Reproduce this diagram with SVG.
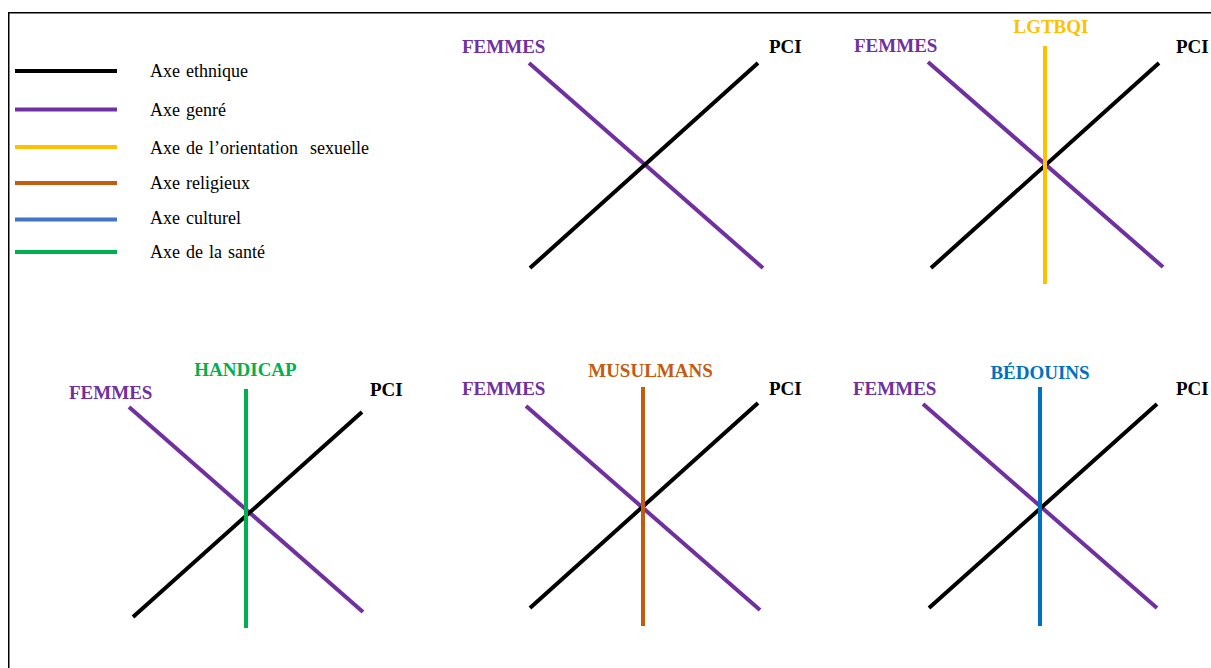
<svg xmlns="http://www.w3.org/2000/svg" width="1211" height="668" viewBox="0 0 1211 668">
<style>
.leg{font-family:"Liberation Serif","Times New Roman",serif;font-size:18px;fill:#000;word-spacing:1.5px}
.lbl{font-family:"Liberation Serif","Times New Roman",serif;font-size:19px;font-weight:bold}
.ax{stroke-width:4;fill:none}
.blk{stroke:#000}
.pur{stroke:#7030A0}
.yel{stroke:#FFC000}
.org{stroke:#C55A11}
.blu{stroke:#4472C4}
.blu2{stroke:#0070C0}
.grn{stroke:#00B050}
</style>
<rect x="0" y="0" width="1211" height="668" fill="#fff"/>
<path d="M8.75 668 V12.75 H1211" fill="none" stroke="#000" stroke-width="1.5"/>
<g id="legend">
<line class="ax blk" x1="15" y1="71" x2="117" y2="71"/>
<line class="ax pur" x1="15" y1="109.5" x2="117" y2="109.5"/>
<line class="ax yel" x1="15" y1="147" x2="117" y2="147"/>
<line class="ax org" x1="15" y1="183" x2="117" y2="183"/>
<line class="ax blu" x1="15" y1="219.5" x2="117" y2="219.5"/>
<line class="ax grn" x1="15" y1="252" x2="117" y2="252"/>
<text class="leg" x="150" y="77">Axe ethnique</text>
<text class="leg" x="150" y="115.5">Axe genré</text>
<text class="leg" x="150" y="154" xml:space="preserve">Axe de l’orientation  sexuelle</text>
<text class="leg" x="150" y="189">Axe religieux</text>
<text class="leg" x="150" y="224">Axe culturel</text>
<text class="leg" x="150" y="258">Axe de la santé</text>
</g>
<g id="connectors">
<line class="ax pur" x1="529" y1="63" x2="763" y2="268"/>
<line class="ax blk" x1="530" y1="268" x2="758" y2="63"/>
<line class="ax pur" x1="928" y1="62" x2="1163" y2="267"/>
<line class="ax blk" x1="931" y1="268" x2="1159" y2="63"/>
<line class="ax yel" x1="1045" y1="46" x2="1045" y2="284"/>
<line class="ax pur" x1="129" y1="407" x2="363" y2="612"/>
<line class="ax blk" x1="133" y1="617" x2="362" y2="412"/>
<line class="ax grn" x1="246" y1="389" x2="246" y2="628"/>
<line class="ax pur" x1="526" y1="406" x2="760" y2="610"/>
<line class="ax blk" x1="530" y1="608" x2="758" y2="403"/>
<line class="ax org" x1="643" y1="387" x2="643" y2="626"/>
<line class="ax pur" x1="923" y1="404" x2="1157" y2="608"/>
<line class="ax blk" x1="929" y1="608" x2="1157" y2="404"/>
<line class="ax blu2" x1="1040" y1="387" x2="1040" y2="626"/>
</g>
<g id="d1">
<text class="lbl" x="462" y="53" fill="#7030A0">FEMMES</text>
<text class="lbl" x="769" y="53" fill="#000">PCI</text>
</g>
<g id="d2">
<text class="lbl" x="854" y="52" fill="#7030A0">FEMMES</text>
<text class="lbl" x="1176" y="53" fill="#000">PCI</text>
<text class="lbl" x="1051" y="33" fill="#FFC000" text-anchor="middle">LGTBQI</text>
</g>
<g id="d3">
<text class="lbl" x="69" y="399" fill="#7030A0">FEMMES</text>
<text class="lbl" x="370" y="396" fill="#000">PCI</text>
<text class="lbl" x="245.5" y="376" fill="#00B050" text-anchor="middle">HANDICAP</text>
</g>
<g id="d4">
<text class="lbl" x="462" y="395" fill="#7030A0">FEMMES</text>
<text class="lbl" x="769" y="395" fill="#000">PCI</text>
<text class="lbl" x="650.5" y="377" fill="#C55A11" text-anchor="middle">MUSULMANS</text>
</g>
<g id="d5">
<text class="lbl" x="853" y="395" fill="#7030A0">FEMMES</text>
<text class="lbl" x="1176" y="395" fill="#000">PCI</text>
<text class="lbl" x="1040" y="379" fill="#0070C0" text-anchor="middle">BÉDOUINS</text>
</g>
</svg>
